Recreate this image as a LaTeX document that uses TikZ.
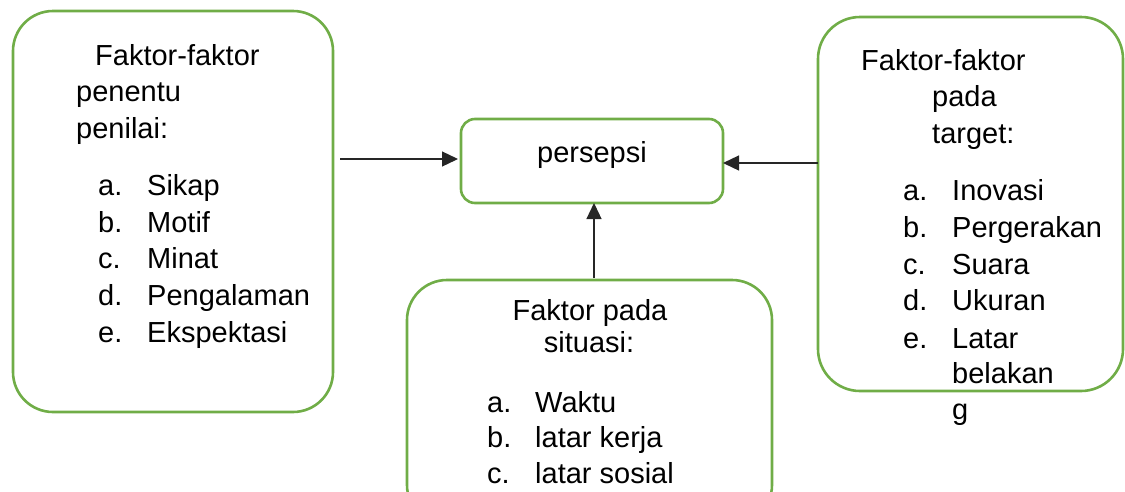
\documentclass[tikz,border=0pt]{standalone}
\usepackage{fontspec}
\setmainfont{Liberation Sans}
\usetikzlibrary{arrows.meta}
\definecolor{boxgreen}{HTML}{70AD47}
\begin{document}
\begin{tikzpicture}[x=1pt,y=-1pt,
  box/.style={draw=boxgreen, line width=2.6pt, fill=none, inner sep=0pt, outer sep=0pt},
  txt/.style={anchor=base west, inner sep=0pt, font=\fontsize{29}{35}\selectfont},
  ctxt/.style={anchor=base, inner sep=0pt, font=\fontsize{29}{35}\selectfont},
  arr/.style={draw=black!85, line width=1.3pt, -{Triangle[length=16pt,width=15pt]}}]
\useasboundingbox (0,0) rectangle (1125,491);
% boxes
\node[box, rounded corners=40pt, minimum width=320pt, minimum height=401pt] (leftbox) at (173,211.5) {};
\node[box, rounded corners=14pt, minimum width=262pt, minimum height=84pt] (persepsi) at (592,161) {};
\node[box, rounded corners=40pt, minimum width=365pt, minimum height=245pt] (bottombox) at (589.5,402.5) {};
\node[box, rounded corners=42pt, minimum width=305pt, minimum height=374pt] (rightbox) at (970.5,204) {};
% left text
\node[txt] (l1) at (95,65) {Faktor-faktor};
\node[txt] (l2) at (76,101) {penentu};
\node[txt] (l3) at (76,138) {penilai:};
\node[txt] (la) at (98,195) {a.};  \node[txt] (lat) at (147,195) {Sikap};
\node[txt] (lb) at (98,232) {b.};  \node[txt] (lbt) at (147,232) {Motif};
\node[txt] (lc) at (98,268) {c.};  \node[txt] (lct) at (147,268) {Minat};
\node[txt] (ld) at (98,305) {d.};  \node[txt] (ldt) at (147,305) {Pengalaman};
\node[txt] (le) at (98,342) {e.};  \node[txt] (let) at (147,342) {Ekspektasi};
% center text
\node[ctxt] (ptext) at (592,162) {persepsi};
% bottom text
\node[ctxt] (b1) at (590,320) {Faktor pada};
\node[ctxt] (b2) at (589,352) {situasi:};
\node[txt] (ba) at (487,412) {a.};  \node[txt] (bat) at (535,412) {Waktu};
\node[txt] (bb) at (487,447) {b.};  \node[txt] (bbt) at (535,447) {latar kerja};
\node[txt] (bc) at (487,483) {c.};  \node[txt] (bct) at (535,483) {latar sosial};
% right text
\node[txt] (r1) at (861,70) {Faktor-faktor};
\node[txt] (r2) at (932,106) {pada};
\node[txt] (r3) at (932,143) {target:};
\node[txt] (ra) at (903,200) {a.};  \node[txt] (rat) at (952,200) {Inovasi};
\node[txt] (rb) at (903,237) {b.};  \node[txt] (rbt) at (952,237) {Pergerakan};
\node[txt] (rc) at (903,274) {c.};  \node[txt] (rct) at (952,274) {Suara};
\node[txt] (rd) at (903,310) {d.};  \node[txt] (rdt) at (952,310) {Ukuran};
\node[txt] (re) at (903,348) {e.};  \node[txt] (ret) at (952,348) {Latar};
\node[txt] (re2) at (952,383) {belakan};
\node[txt] (re3) at (952,419) {g};
% connectors
\coordinate (lstart) at ([yshift=2pt]leftbox.east |- persepsi.west);
\draw[arr, shorten <=7pt, shorten >=3pt] (lstart) -- (lstart -| persepsi.west);
\coordinate (rstart) at ([yshift=-2pt]rightbox.west |- persepsi.east);
\draw[arr] (rstart) -- (rstart -| persepsi.east);
\coordinate (ustart) at ([xshift=2pt]bottombox.north -| persepsi.south);
\draw[arr, shorten <=2pt] (ustart) -- (ustart |- persepsi.south);
\end{tikzpicture}
\end{document}
